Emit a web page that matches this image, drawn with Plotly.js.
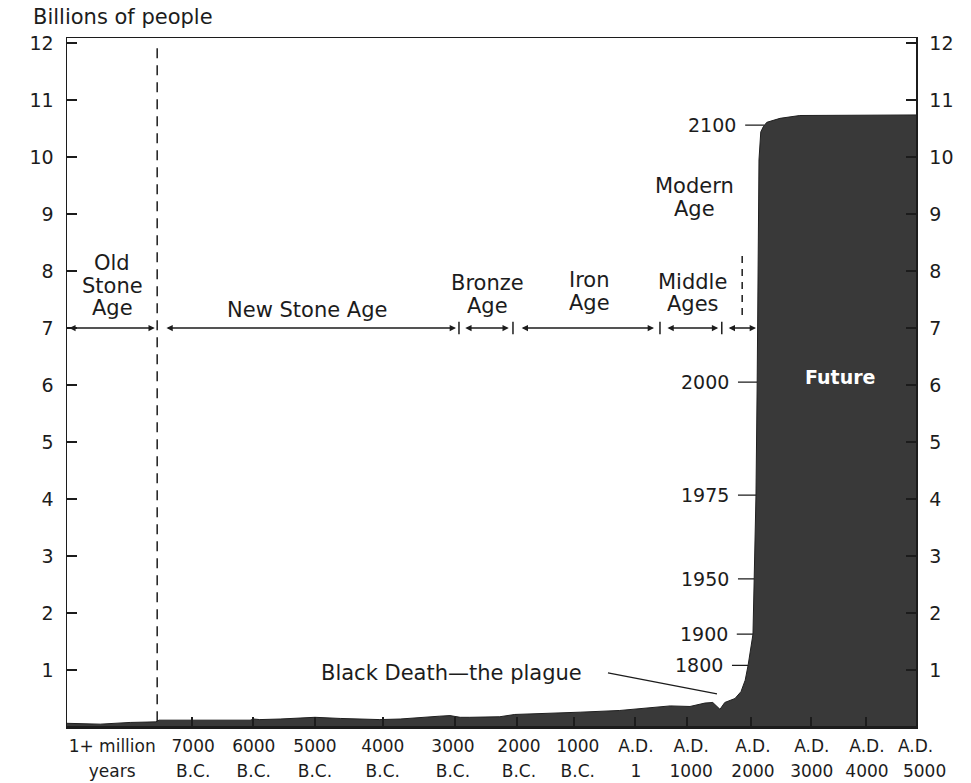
<!DOCTYPE html>
<html><head><meta charset="utf-8">
<script src="https://cdn.plot.ly/plotly-3.0.1.min.js"></script>
<style>html,body{margin:0;padding:0;background:#fff}</style>
</head><body><div id="chart" style="width:971px;height:783px"></div>
<script>
// ---- DATA ----
// position along the drawn time axis (1 unit ~ one millennium slot) and world population (billions)
const curvePos = [0.00,0.57,1.07,1.50,1.55,2.23,3.07,3.13,3.23,3.57,3.90,4.15,4.57,5.23,5.57,5.90,6.23,6.40,6.57,6.73,7.23,7.48,7.90,8.57,9.23,9.90,10.07,10.40,10.65,10.78,10.90,10.98,11.15,11.25,11.32,11.37,11.40,11.45,11.47,11.50,11.52,11.55,11.58,11.62,11.68,11.90,12.23,14.17];
const curvePop = [0.065,0.05,0.08,0.09,0.12,0.12,0.12,0.14,0.13,0.14,0.16,0.17,0.15,0.13,0.14,0.17,0.19,0.20,0.17,0.17,0.18,0.22,0.24,0.26,0.29,0.35,0.37,0.36,0.42,0.43,0.31,0.43,0.50,0.62,0.82,1.09,1.30,1.63,2.60,4.07,6.05,9.95,10.44,10.53,10.61,10.68,10.73,10.74];

const tickLine1 = ['1+ million','7000','6000','5000','4000','3000','2000','1000','A.D.','A.D.','A.D.','A.D.','A.D.','A.D.'];
const tickLine2 = ['years','B.C.','B.C.','B.C.','B.C.','B.C.','B.C.','B.C.','1','1000','2000','3000','4000','5000'];
const tickLabelPos = [0.77,2.12,3.13,4.15,5.28,6.45,7.55,8.53,9.50,10.42,11.45,12.43,13.35,14.16];
const tickMarkPos = [2.10,3.12,4.15,5.28,6.48,7.52,8.47,9.48,10.35,11.42,12.42,13.33];
const yTicks = [1,2,3,4,5,6,7,8,9,10,11,12];

const eraNames = ['Old\nStone\nAge','New Stone Age','Bronze\nAge','Iron\nAge','Middle\nAges','Modern\nAge'];
const eraStart = [0.03,1.65,6.63,7.57,10.00,11.02];
const eraEnd   = [1.48,6.50,7.38,9.80,10.87,11.50];
const eraSeparators = [6.55,7.45,9.90,10.93];
const eraLevel = 7;
const stoneAgeBoundary = 1.52;

const markYears = ['1800','1900','1950','1975','2000','2100'];
const markPop   = [1.08,1.63,2.60,4.07,6.05,10.56];

const plagueLabel = 'Black Death\u2014the plague';
const futureLabel = 'Future';
const yTitle = 'Billions of people';

// ---- LAYOUT helpers (positions / styles) ----
const INK = '#1c1c1c';
const FONT = 'DejaVu Sans';
const eraLabelPos = [  // x (axis units), y of first line (billions)
  [0.77, 8.14],[4.02, 7.32],[7.02, 7.79],[8.73, 7.84],[10.45, 7.81],[10.47, 9.49]
];
const lineGap = 22.5;
const markTail = [11.10,11.18,11.20,11.20,11.20,11.32];
const futurePos = [12.9, 6.14];
const shortDash = {x: 11.27, y0: 7.23, y1: 8.33};

// x position on the rising part of the curve for a given population
function posAtPop(p){
  const start = curvePos.indexOf(11.15);
  for (let i = start; i < curvePos.length-1; i++){
    const a = curvePop[i], b = curvePop[i+1];
    if (p >= a && p <= b){
      const t = (b===a)?0:(p-a)/(b-a);
      return curvePos[i] + t*(curvePos[i+1]-curvePos[i]);
    }
  }
  return curvePos[curvePos.length-1];
}

const xr = [0.017, 14.167];
const yr = [0.0175, 12.09];

const traces = [
  {x: curvePos, y: curvePop, type:'scatter', mode:'lines', fill:'tozeroy',
   fillcolor:'#393939', line:{color:'#202020', width:1}, hoverinfo:'skip'},
  {x: eraSeparators, y: eraSeparators.map(()=>eraLevel), type:'scatter', mode:'markers',
   marker:{symbol:'line-ns', size:9, color:INK, line:{width:1.5, color:INK}}, hoverinfo:'skip'},
  {x:[null], y:[null], xaxis:'x2', yaxis:'y', type:'scatter', hoverinfo:'skip'},
  {x:[null], y:[null], xaxis:'x3', yaxis:'y', type:'scatter', hoverinfo:'skip'},
  {x:[null], y:[null], xaxis:'x4', yaxis:'y', type:'scatter', hoverinfo:'skip'},
  {x:[null], y:[null], xaxis:'x', yaxis:'y2', type:'scatter', hoverinfo:'skip'}
];

const annotations = [];
// era arrows
eraNames.forEach((n,i)=>{
  annotations.push({x: eraEnd[i], y: eraLevel, ax: eraStart[i], ay: eraLevel, axref:'x', ayref:'y',
    xref:'x', yref:'y', text:'', showarrow:true, arrowside:'end+start',
    arrowhead:2, startarrowhead:2, arrowsize:0.9, startarrowsize:0.9, arrowwidth:1.4, arrowcolor:INK});
  const lines = n.split('\n');
  lines.forEach((ln,j)=>{
    annotations.push({x: eraLabelPos[i][0], y: eraLabelPos[i][1], xref:'x', yref:'y', text: ln,
      showarrow:false, xanchor:'center', yanchor:'middle', yshift: -j*lineGap,
      font:{family:FONT, size:21, color:INK}});
  });
});
// year marks on the curve
markYears.forEach((yr_,i)=>{
  annotations.push({x: posAtPop(markPop[i]), y: markPop[i], xref:'x', yref:'y',
    ax: markTail[i], ay: markPop[i], axref:'x', ayref:'y', text: yr_, showarrow:true,
    arrowhead:0, arrowwidth:1.3, arrowcolor:INK, xanchor:'right', yanchor:'middle', borderpad:8,
    font:{family:FONT, size:19, color:INK}});
});
// plague
const plagueIdx = curvePos.indexOf(10.90);
annotations.push({x: curvePos[plagueIdx]-0.05, y: curvePop[plagueIdx]+0.27, xref:'x', yref:'y',
  ax:-109, ay:-21, text: plagueLabel, showarrow:true, arrowhead:0, arrowwidth:1.3, arrowcolor:INK,
  xanchor:'right', yanchor:'middle', borderpad:25, font:{family:FONT, size:21, color:INK}});
// future
annotations.push({x: futurePos[0], y: futurePos[1], xref:'x', yref:'y', text: futureLabel, showarrow:false,
  font:{family:FONT, size:19, color:'#ffffff', weight:'bold'}});

const shapes = [
  {type:'line', xref:'x', yref:'y', x0:stoneAgeBoundary, x1:stoneAgeBoundary, y0:0.1, y1:12,
   line:{color:INK, width:1.5, dash:'10px,7px'}},
  {type:'line', xref:'x', yref:'y', x0:shortDash.x, x1:shortDash.x, y0:shortDash.y0, y1:shortDash.y1,
   line:{color:INK, width:1.5, dash:'7px,6px'}}
];

// second label line: last label sits past the right edge, so it gets its own shifted axis
const last = tickLine2.length - 1;
const baseX = {range: xr, showgrid:false, zeroline:false, fixedrange:true, tickangle:0, automargin:false};
const baseY = {range: yr, showgrid:false, zeroline:false, fixedrange:true, tickvals:yTicks,
  ticks:'inside', ticklen:10, tickwidth:1.5, tickcolor:INK, showline:true, linewidth:1.5, linecolor:INK,
  tickfont:{family:FONT, size:19, color:INK}, ticklabelstandoff:8, automargin:false};
const tickFont = {family:FONT, size:17, color:INK};

const layout = {
  width:971, height:783, margin:{l:67, r:55, t:38, b:57},
  paper_bgcolor:'#ffffff', plot_bgcolor:'#ffffff', showlegend:false,
  font:{family:FONT, color:INK},
  title:{text: yTitle, x: 33/971, xref:'container', xanchor:'left', y: 1-17/783, yref:'container',
    yanchor:'middle', font:{family:FONT, size:21, color:INK}},
  xaxis: Object.assign({}, baseX, {tickvals: tickLabelPos, ticktext: tickLine1, ticks:'',
    showline:true, linewidth:3, linecolor:INK, tickfont:tickFont, ticklabelstandoff:3}),
  xaxis2: Object.assign({}, baseX, {overlaying:'x', anchor:'y', side:'bottom',
    tickvals: tickLabelPos.slice(0,last), ticktext: tickLine2.slice(0,last),
    ticks:'', showline:false, tickfont:tickFont, ticklabelstandoff:33}),
  xaxis4: Object.assign({}, baseX, {overlaying:'x', anchor:'y', side:'bottom',
    tickvals: [tickLabelPos[last]], ticktext: [tickLine2[last]],
    ticks:'', showline:false, tickfont:tickFont, ticklabelstandoff:33, ticklabelshift:9}),
  xaxis3: Object.assign({}, baseX, {overlaying:'x', anchor:'y', side:'bottom', tickvals: tickMarkPos,
    showticklabels:false, ticks:'inside', ticklen:9, tickwidth:1.5, tickcolor:INK,
    showline:true, mirror:true, linewidth:1.5, linecolor:INK}),
  yaxis: Object.assign({}, baseY, {side:'left'}),
  yaxis2: Object.assign({}, baseY, {overlaying:'y', side:'right', anchor:'x'}),
  annotations: annotations,
  shapes: shapes
};

Plotly.newPlot('chart', traces, layout, {staticPlot:true, displayModeBar:false});
</script>
</body></html>
